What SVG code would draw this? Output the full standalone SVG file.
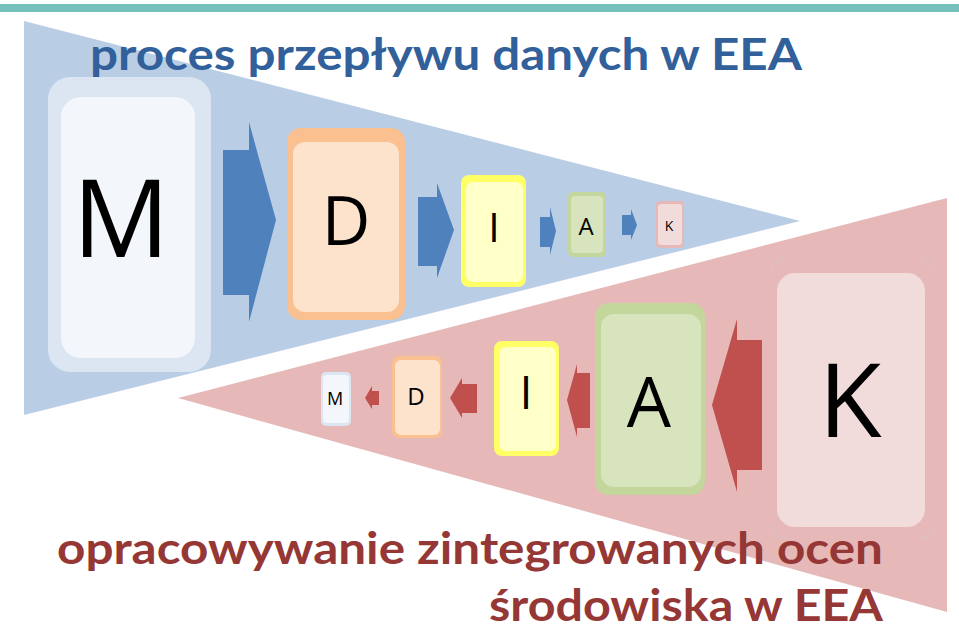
<svg xmlns="http://www.w3.org/2000/svg" width="959" height="630" viewBox="0 0 959 630">
<style>
.lt{font-family:"Open Sans","DejaVu Sans",sans-serif;fill:#000;text-anchor:middle}
.ttl{font-family:Lato,"Open Sans",sans-serif;font-weight:bold}
.ab{fill:#4F81BD}
.ar{fill:#C0504D}
.bo{fill:#DCE6F2}.bi{fill:#F3F6FB}
.oo{fill:#FAC090}.oi{fill:#FDE2CC}
.yo{fill:#FFFF66}.yi{fill:#FFFFC8}
.go{fill:#C3D69B}.gi{fill:#D7E4BD}
.po{fill:#E6B9B8}.pi{fill:#F2DCDB}
.arc{fill:none;stroke:#D6C6C6;stroke-width:1}
</style>
<rect x="0" y="0" width="959" height="630" fill="#fff"/>
<rect x="0" y="4" width="959" height="8" fill="#76C1BC"/>
<polygon points="24,21 24,415 800,221" fill="#B9CDE5"/>
<polygon points="178,398 947,198 947,612" fill="#E6B9B8"/>
<text class="ttl" x="90" y="70" font-size="43" fill="#31609A" textLength="712" lengthAdjust="spacingAndGlyphs">proces przepływu danych w EEA</text>
<g id="connectors">
<polygon class="ab" points="223,150 249,150 249,122 276,220 249,322 249,295 223,295"/>
<polygon class="ab" points="418,197 437,197 437,183 454,230 437,278 437,266 418,266"/>
<polygon class="ab" points="540,217 550,217 550,207 556,231 550,255 550,247 540,247"/>
<polygon class="ab" points="622,215 631,215 631,209 637,225 631,240 631,235 622,235"/>
<polygon class="ar" points="379,391 372,391 372,386 365,398 372,409 372,405 379,405"/>
<polygon class="ar" points="477,384 462,384 462,378 450,398 462,418 462,413 477,413"/>
<polygon class="ar" points="590,373 577,373 577,364 567,400 577,437 577,428 590,428"/>
<polygon class="ar" points="762,340 737,340 737,319 712,405 737,492 737,470 762,470"/>
</g>
<g id="top-M"><rect class="bo" x="48" y="77" width="163" height="295" rx="22"/><rect class="bi" x="61" y="97" width="134" height="261" rx="20"/><text class="lt" x="121" y="257" font-size="108">M</text></g>
<g id="top-D"><rect class="oo" x="287" y="128" width="118" height="192" rx="14"/><rect class="oi" x="293" y="142" width="106" height="170" rx="12"/><text class="lt" x="346" y="245" font-size="67">D</text></g>
<g id="top-I"><rect class="yo" x="461" y="175" width="65" height="112" rx="8"/><rect class="yi" x="466" y="182" width="57" height="100" rx="7"/><text class="lt" x="494" y="242" font-size="41">I</text></g>
<g id="top-A"><rect class="go" x="568" y="192" width="38" height="65" rx="5"/><rect class="gi" x="571" y="196" width="32" height="57" rx="4"/><text class="lt" x="586" y="235" font-size="24">A</text></g>
<g id="top-K"><rect class="po" x="656" y="201" width="28" height="47" rx="4"/><rect class="pi" x="658" y="204" width="24" height="41" rx="3"/><text class="lt" x="669" y="231" font-size="14">K</text></g>
<g id="bot-M"><rect class="bo" x="321" y="372" width="30" height="54" rx="5"/><rect class="bi" x="323" y="375" width="26" height="48" rx="4"/><text class="lt" x="335" y="405" font-size="18">M</text></g>
<g id="bot-D"><rect class="oo" x="392" y="356" width="50" height="82" rx="7"/><rect class="oi" x="395" y="360" width="45" height="75" rx="6"/><text class="lt" x="416" y="405" font-size="24">D</text></g>
<g id="bot-I"><rect class="yo" x="494" y="341" width="65" height="115" rx="8"/><rect class="yi" x="499" y="347" width="57" height="104" rx="7"/><text class="lt" x="526" y="409" font-size="45">I</text></g>
<g id="bot-A"><rect class="go" x="595" y="303" width="110" height="192" rx="14"/><rect class="gi" x="601" y="314" width="100" height="173" rx="13"/><text class="lt" x="649" y="427" font-size="70">A</text></g>
<g id="bot-K"><rect class="po" x="771" y="258" width="163" height="280" rx="14"/>
<path class="arc" d="M771,272 A14,14 0 0 1 785,258 M920,258 A14,14 0 0 1 934,272 M934,524 A14,14 0 0 1 920,538 M785,538 A14,14 0 0 1 771,524"/>
<rect class="pi" x="777" y="273" width="148" height="254" rx="18"/><text class="lt" x="850" y="437" font-size="103">K</text></g>
<text class="ttl" x="57" y="564" font-size="43" fill="#953735" textLength="826" lengthAdjust="spacingAndGlyphs">opracowywanie zintegrowanych ocen</text>
<text class="ttl" x="489" y="621" font-size="43" fill="#953735" textLength="394" lengthAdjust="spacingAndGlyphs">środowiska w EEA</text>
</svg>
